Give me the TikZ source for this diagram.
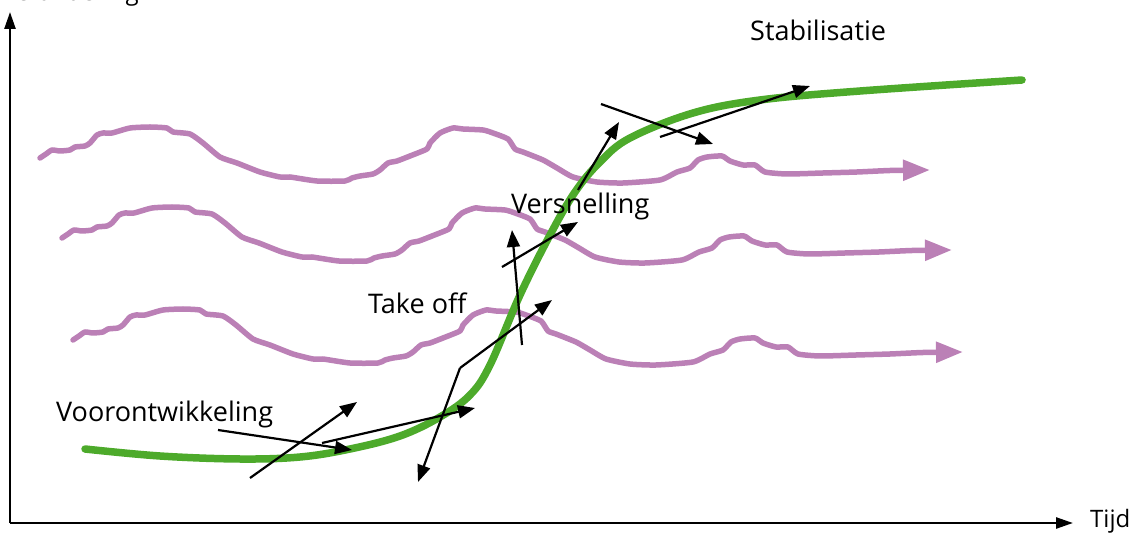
\documentclass[tikz,border=0pt]{standalone}
\usepackage{fontspec}
\setmainfont{Open Sans}
\usetikzlibrary{arrows.meta}
\definecolor{sgreen}{HTML}{4DAA2B}
\definecolor{wpurple}{HTML}{BB80B6}
\tikzset{
  axisline/.style={line width=2.5pt, -{Triangle[length=17pt,width=11pt]}},
  scurve/.style={draw=sgreen, line width=7.5pt, line cap=round},
  wave/.style={draw=wpurple, line width=5.5pt, line join=round, line cap=round, -{Triangle[length=27pt,width=20pt]}},
  marker/.style={line width=2.2pt, -{Triangle[length=17pt,width=13pt]}},
  lbl/.style={font=\fontsize{27}{32}\selectfont, anchor=base west, inner sep=0pt},
  axlbl/.style={font=\fontsize{24}{28}\selectfont, anchor=base west, inner sep=0pt}
}
\begin{document}
\begin{tikzpicture}[x=1pt,y=-1pt]
\useasboundingbox (0,0) rectangle (1135,534);
% axes
\coordinate (O) at (10,523);
\coordinate (ytop) at (10,12);
\coordinate (xend) at (1073,523);
\draw[axisline] (O) -- (ytop);
\draw[axisline] (O) -- (xend);
\node[axlbl] (ylab) at (2,0.5) {Verandering};
\node[axlbl] (tijd) at (1090,527) {Tijd};
% waves
\foreach \dx/\dy in {0/0,22/80,33/182}{
\draw[wave, shift={(\dx,\dy)}] plot[smooth, tension=0.35] coordinates {
(40,158) (46,154) (52,150) (60,151) (70,150) (75,147) (85,146) (90,143) (97,135) (103,133) (112,133) (130,128) (150,127) (167,128) (173,132) (190,134) (203,143) (220,157) (237,163) (260,172) (280,177) (290,177) (317,181) (345,181) (352,178) (360,176) (373,174) (380,170) (388,163) (397,161) (410,156) (427,149) (430,143) (440,133) (453,128) (463,129) (483,130) (493,133) (508,139) (515,149) (523,152) (543,160) (557,168) (573,177) (597,182) (623,183) (660,180) (677,172) (690,168) (698,160) (707,157) (722,156) (730,161) (743,165) (755,165) (765,172) (787,174) (823,173) (857,172) (890,170.5) (930,170)};
}
% S-curve
\draw[scurve] plot[smooth, tension=0.6] coordinates {
(85,449) (160,456) (240,459) (300,457) (350,449) (400,436) (440,417) (470,395) (490,365) (520,295) (550,235) (575,192) (600,162) (630,138) (693,113) (760,100) (860,91) (1022,80)};
% arrows
\coordinate (a1) at (218,430); \coordinate (a2) at (352,450);
\coordinate (b1) at (250,478); \coordinate (b2) at (357,402);
\coordinate (c1) at (322,443); \coordinate (c2) at (475,408);
\coordinate (d1) at (418,482); \coordinate (dk) at (460,368); \coordinate (d2) at (552,300);
\coordinate (e1) at (522,345); \coordinate (e2) at (512,230);
\coordinate (f1) at (502,267); \coordinate (f2) at (578,222);
\coordinate (g1) at (578,190); \coordinate (g2) at (619,122);
\coordinate (h1) at (601,104); \coordinate (h2) at (713,144);
\coordinate (i1) at (660,137); \coordinate (i2) at (810,86);
\draw[marker] (a1) -- (a2);
\draw[marker] (b1) -- (b2);
\draw[marker] (c1) -- (c2);
\draw[marker] (dk) -- (d1);
\draw[marker] (dk) -- (d2);
\draw[marker] (e1) -- (e2);
\draw[marker] (f1) -- (f2);
\draw[marker] (g1) -- (g2);
\draw[marker] (h1) -- (h2);
\draw[marker] (i1) -- (i2);
% labels
\node[lbl] (stab) at (750,41) {Stabilisatie};
\node[lbl] (vers) at (511,214) {Versnelling};
\node[lbl] (take) at (368,314) {Take off};
\node[lbl] (voor) at (56,421) {Voorontwikkeling};
\end{tikzpicture}
\end{document}
